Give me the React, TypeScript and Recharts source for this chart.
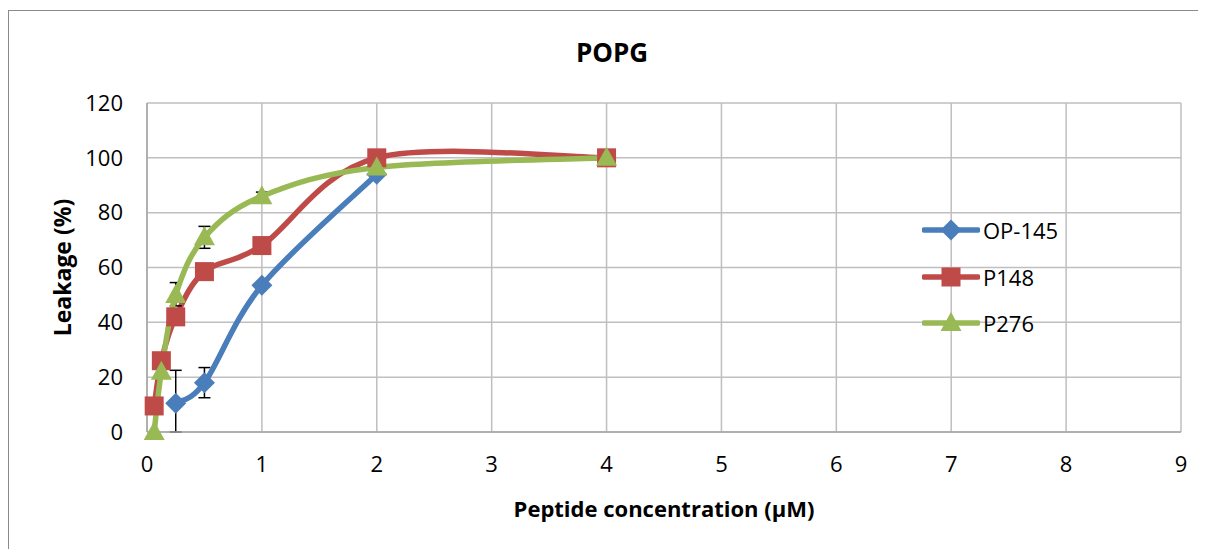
import React from 'react';
import { LineChart, Line, XAxis, YAxis, CartesianGrid, ErrorBar, Legend, Label } from 'recharts';

const chartTitle = 'POPG';
const xAxisTitle = 'Peptide concentration (µM)';
const yAxisTitle = 'Leakage (%)';
const xTicks = [0, 1, 2, 3, 4, 5, 6, 7, 8, 9];
const yTicks = [0, 20, 40, 60, 80, 100, 120];

const op145X = [0.25, 0.5, 1, 2];
const op145Y = [10.5, 18, 53.5, 94];
const op145Err: (number[] | null)[] = [[10.5, 12], [5.5, 5.5], null, null];

const p148X = [0.0625, 0.125, 0.25, 0.5, 1, 2, 4];
const p148Y = [9.5, 26, 42, 58.5, 68, 100, 100];

const p276X = [0.0625, 0.125, 0.25, 0.5, 1, 2, 4];
const p276Y = [0, 22, 50, 71, 86, 96.5, 100];
const p276Err: (number[] | null)[] = [null, null, [4, 4.5], [4, 4], [1.5, 1.5], null, null];

const seriesNames = ['OP-145', 'P148', 'P276'];
const COLORS = { blue: '#4A7EBB', red: '#BE4B48', green: '#98B954' };

const build = (xs: number[], ys: number[], errs?: (number[] | null)[]) =>
  xs.map((x, i) => ({ x, y: ys[i], err: errs ? errs[i] ?? undefined : undefined }));

const op145Data = build(op145X, op145Y, op145Err);
const p148Data = build(p148X, p148Y);
const p276Data = build(p276X, p276Y, p276Err);

// Excel-like smoothed line (Catmull-Rom style bezier)
const excelCurve: any = (context: any) => {
  let pts: [number, number][] = [];
  return {
    areaStart() {},
    areaEnd() {},
    lineStart() {
      pts = [];
    },
    point(x: number, y: number) {
      pts.push([+x, +y]);
    },
    lineEnd() {
      const n = pts.length;
      if (!n) return;
      context.moveTo(pts[0][0], pts[0][1]);
      for (let i = 0; i < n - 1; i++) {
        const p0 = pts[i - 1] || pts[i];
        const p1 = pts[i];
        const p2 = pts[i + 1];
        const p3 = pts[i + 2] || pts[i + 1];
        const c1x = p1[0] + (p2[0] - p0[0]) / 6;
        const c1y = p1[1] + (p2[1] - p0[1]) / 6;
        const c2x = p2[0] - (p3[0] - p1[0]) / 6;
        const c2y = p2[1] - (p3[1] - p1[1]) / 6;
        context.bezierCurveTo(c1x, c1y, c2x, c2y, p2[0], p2[1]);
      }
    },
  };
};

const DiamondShape = ({ cx, cy, fill }: any) => (
  <path d={`M${cx},${cy - 10.5}L${cx + 10.5},${cy}L${cx},${cy + 10.5}L${cx - 10.5},${cy}Z`} fill={fill} />
);
const SquareShape = ({ cx, cy, fill }: any) => <rect x={cx - 9.5} y={cy - 9.5} width={19} height={19} fill={fill} />;
const TriangleShape = ({ cx, cy, fill }: any) => (
  <path d={`M${cx},${cy - 11}L${cx + 10.5},${cy + 8}L${cx - 10.5},${cy + 8}Z`} fill={fill} />
);

const makeDot = (Shape: any, fill: string) => (props: any) => {
  const { cx, cy, index } = props;
  if (cx == null || cy == null) return <g key={`d-${index}`} />;
  return <Shape key={`d-${index}`} cx={cx} cy={cy} fill={fill} />;
};

const FONT = '"Open Sans", "Liberation Sans", sans-serif';

const legendItems = [
  { name: seriesNames[0], color: COLORS.blue, Shape: DiamondShape },
  { name: seriesNames[1], color: COLORS.red, Shape: SquareShape },
  { name: seriesNames[2], color: COLORS.green, Shape: TriangleShape },
];

const LegendContent = () => (
  <div style={{ fontFamily: FONT, fontSize: 22, color: '#000' }}>
    {legendItems.map((it) => (
      <div key={it.name} style={{ display: 'flex', alignItems: 'center', height: 46.5 }}>
        <svg width={58} height={24} style={{ display: 'block' }}>
          <line x1={2} y1={12} x2={56} y2={12} stroke={it.color} strokeWidth={5.5} strokeLinecap="round" />
          <it.Shape cx={29} cy={12} fill={it.color} />
        </svg>
        <span style={{ marginLeft: 3 }}>{it.name}</span>
      </div>
    ))}
  </div>
);

export default function App() {
  return (
    <div style={{ position: 'relative', width: 1198, height: 541, background: '#fff' }}>
      <div
        style={{
          position: 'absolute',
          left: 0,
          top: 2,
          right: 0,
          bottom: 0,
          borderLeft: '1.5px solid #8a8a8a',
          borderTop: '1.5px solid #8a8a8a',
        }}
      />
      <div
        style={{
          position: 'absolute',
          left: 5,
          width: 1198,
          top: 28,
          textAlign: 'center',
          fontFamily: FONT,
          fontWeight: 700,
          fontSize: 26,
          lineHeight: '32px',
          color: '#000',
        }}
      >
        {chartTitle}
      </div>
      <div style={{ position: 'absolute', left: 0, top: 0 }}>
        <LineChart width={1198} height={541} margin={{ top: 95, right: 25, bottom: 37, left: 0 }}>
          <CartesianGrid stroke="#bfbfbf" strokeWidth={1.5} />
          <XAxis
            type="number"
            dataKey="x"
            domain={[0, 9]}
            ticks={xTicks}
            interval={0}
            height={80}
            tickLine={false}
            tickSize={0}
            tickMargin={24}
            axisLine={{ stroke: '#a6a6a6', strokeWidth: 1.5 }}
            tick={{ fill: '#000', fontSize: 22, fontFamily: FONT }}
          >
            <Label
              content={(p: any) => {
                const vb = p.viewBox || {};
                return (
                  <text
                    x={vb.x + vb.width / 2}
                    y={500}
                    textAnchor="middle"
                    dominantBaseline="central"
                    fontFamily={FONT}
                    fontWeight={700}
                    fontSize={22}
                    fill="#000"
                  >
                    {xAxisTitle}
                  </text>
                );
              }}
            />
          </XAxis>
          <YAxis
            type="number"
            domain={[0, 120]}
            ticks={yTicks}
            interval={0}
            width={139}
            tickLine={false}
            tickSize={0}
            tickMargin={24}
            axisLine={{ stroke: '#a6a6a6', strokeWidth: 1.5 }}
            tick={{ fill: '#000', fontSize: 22, fontFamily: FONT }}
          >
            <Label
              content={(p: any) => {
                const vb = p.viewBox || {};
                const cy = vb.y + vb.height / 2;
                return (
                  <text
                    x={54}
                    y={cy}
                    transform={`rotate(-90, 54, ${cy})`}
                    textAnchor="middle"
                    dominantBaseline="central"
                    fontFamily={FONT}
                    fontWeight={700}
                    fontSize={23}
                    fill="#000"
                  >
                    {yAxisTitle}
                  </text>
                );
              }}
            />
          </YAxis>
          <Legend
            layout="vertical"
            align="center"
            verticalAlign="middle"
            content={<LegendContent />}
            wrapperStyle={{ left: 914, top: 199, width: 200 }}
          />
          <Line
            data={op145Data}
            dataKey="y"
            name={seriesNames[0]}
            type={excelCurve}
            stroke={COLORS.blue}
            strokeWidth={5.5}
            dot={makeDot(DiamondShape, COLORS.blue)}
            activeDot={false}
            isAnimationActive={false}
          >
            <ErrorBar dataKey="err" direction="y" width={6} stroke="#000" strokeWidth={1.5} />
          </Line>
          <Line
            data={p148Data}
            dataKey="y"
            name={seriesNames[1]}
            type={excelCurve}
            stroke={COLORS.red}
            strokeWidth={5.5}
            dot={makeDot(SquareShape, COLORS.red)}
            activeDot={false}
            isAnimationActive={false}
          />
          <Line
            data={p276Data}
            dataKey="y"
            name={seriesNames[2]}
            type={excelCurve}
            stroke={COLORS.green}
            strokeWidth={5.5}
            dot={makeDot(TriangleShape, COLORS.green)}
            activeDot={false}
            isAnimationActive={false}
          >
            <ErrorBar dataKey="err" direction="y" width={6} stroke="#000" strokeWidth={1.5} />
          </Line>
        </LineChart>
      </div>
    </div>
  );
}
